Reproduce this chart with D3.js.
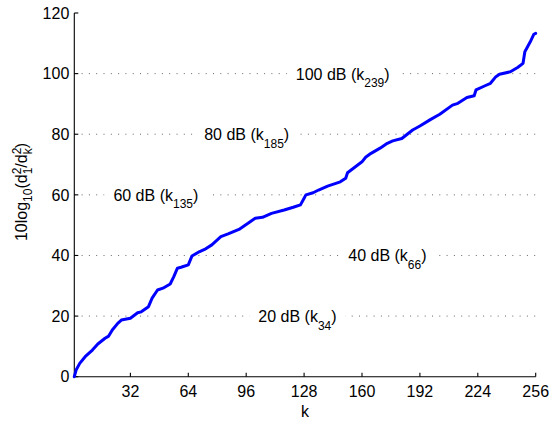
<!DOCTYPE html>
<html>
<head>
<meta charset="utf-8">
<script src="https://cdn.jsdelivr.net/npm/d3@7"></script>
<style>
  html, body { margin: 0; padding: 0; background: #fff; }
  svg { display: block; font-family: "Liberation Sans", Arial, Helvetica, sans-serif; }
</style>
</head>
<body>
<svg id="chart" width="550" height="421"></svg>
<script>
// ---- data ----
const kIndex = [1,2,4,7,11,14,18,20,22,25,27,32,36,38,42,44,47,50,54,56,58,60,64,66,70,73,77,82,86,92,97,101,105,110,117,122,126,128,129,133,136,141,148,151,152,156,160,162,165,170,174,177,182,188,192,198,203,210,213,218,222,223,228,231,234,236,242,246,249,250,253,255,256];
const dBValues = [0,2.2,4.4,6.6,8.8,10.8,12.7,13.4,15.4,17.6,18.7,19.3,21.1,21.4,23.1,25.9,28.6,29.2,30.6,33,35.8,36.1,36.9,39.8,41.2,42,43.5,46.2,47.1,48.6,50.6,52.3,52.6,53.9,55,55.9,56.7,58.9,60,60.7,61.6,62.9,64.3,65.5,67.3,69.1,70.9,72.4,73.7,75.4,77,77.8,78.6,81.4,82.7,84.9,86.6,89.6,90.2,92.1,92.7,94.6,96,96.8,99,99.8,100.6,102,103.4,107.2,110.5,113,113.3];
const xTicks = [32,64,96,128,160,192,224,256];
const yTicks = [0,20,40,60,80,100,120];
const gridLevels = [20,40,60,80,100];
const labelDb = [20,40,60,80,100];
const labelK = ["34","66","135","185","239"];
const labelAtK = [102.7,152.4,22.6,72.8,123.4]; // annotation placement along k

// ---- layout ----
const svg = d3.select("#chart");
const pLeft = 74.3, pRight = 535.7, pTop = 13, pBottom = 376.7;
const x = d3.scaleLinear().domain([1,256]).range([pLeft,pRight]);
const y = d3.scaleLinear().domain([0,120]).range([pBottom,pTop]);
const fs = 16, sfs = 12;

// grid lines (dotted)
svg.append("g").selectAll("line").data(gridLevels).join("line")
  .attr("x1", pLeft).attr("x2", pRight)
  .attr("y1", d => y(d)).attr("y2", d => y(d))
  .attr("stroke", "#666").attr("stroke-width", 1)
  .attr("stroke-dasharray", "1,6.3");

// annotations with white backgrounds
const ann = svg.append("g");
labelDb.forEach((db, i) => {
  const g = ann.append("g");
  const bg = g.append("rect").attr("fill", "#fff");
  const t = g.append("text")
    .attr("x", x(labelAtK[i])).attr("y", y(db) + 6)
    .attr("font-size", fs).attr("fill", "#000");
  t.append("tspan").text(db + " dB (k");
  t.append("tspan").attr("font-size", sfs).attr("dy", 7.5).text(labelK[i]);
  t.append("tspan").attr("dy", -7.5).text(")");
  const bb = t.node().getBBox();
  bg.attr("x", bb.x - 9).attr("y", y(db) - 3).attr("width", bb.width + 18).attr("height", 6);
});

// axes
const axes = svg.append("g").attr("stroke", "#000").attr("stroke-width", 1.1).attr("fill", "none");
axes.append("line").attr("x1", pLeft).attr("x2", pLeft).attr("y1", pTop).attr("y2", pBottom);
axes.append("line").attr("x1", pLeft).attr("x2", pRight).attr("y1", pBottom).attr("y2", pBottom);
axes.selectAll(".yt").data(yTicks).join("line").attr("class","yt")
  .attr("x1", pLeft).attr("x2", pLeft + 4).attr("y1", d => y(d)).attr("y2", d => y(d));
axes.selectAll(".xt").data(xTicks).join("line").attr("class","xt")
  .attr("x1", d => x(d)).attr("x2", d => x(d)).attr("y1", pBottom).attr("y2", pBottom - 4);

// tick labels
svg.append("g").selectAll("text").data(yTicks).join("text")
  .attr("x", pLeft - 5).attr("y", d => y(d)).attr("dy", "0.36em")
  .attr("text-anchor", "end").attr("font-size", fs).text(d => d);
svg.append("g").selectAll("text").data(xTicks).join("text")
  .attr("x", d => x(d)).attr("y", 397)
  .attr("text-anchor", "middle").attr("font-size", fs).text(d => d);

// axis labels
svg.append("text").attr("x", (pLeft + pRight) / 2).attr("y", 416.5)
  .attr("text-anchor", "middle").attr("font-size", fs).text("k");

const yl = svg.append("text")
  .attr("transform", "translate(27,192) rotate(-90)")
  .attr("text-anchor", "middle").attr("font-size", fs);
yl.append("tspan").text("10log");
yl.append("tspan").attr("font-size", sfs).attr("dy", 5).text("10");
yl.append("tspan").attr("dy", -5).text("(d");
yl.append("tspan").attr("font-size", sfs).attr("dy", -6.5).text("2");
yl.append("tspan").attr("font-size", sfs).attr("dx", -6.7).attr("dy", 11.5).text("1");
yl.append("tspan").attr("dy", -5).text("/d");
yl.append("tspan").attr("font-size", sfs).attr("dy", -6.5).text("2");
yl.append("tspan").attr("font-size", sfs).attr("dx", -6.7).attr("dy", 11.5).text("k");
yl.append("tspan").attr("dy", -5).text(")");

// curve
const line = d3.line().x((d, i) => x(kIndex[i])).y(d => y(d)).curve(d3.curveLinear);
svg.append("path").datum(dBValues)
  .attr("d", line).attr("fill", "none").attr("stroke", "#0000ff")
  .attr("stroke-width", 3).attr("stroke-linejoin", "round").attr("stroke-linecap", "round");
</script>
</body>
</html>
